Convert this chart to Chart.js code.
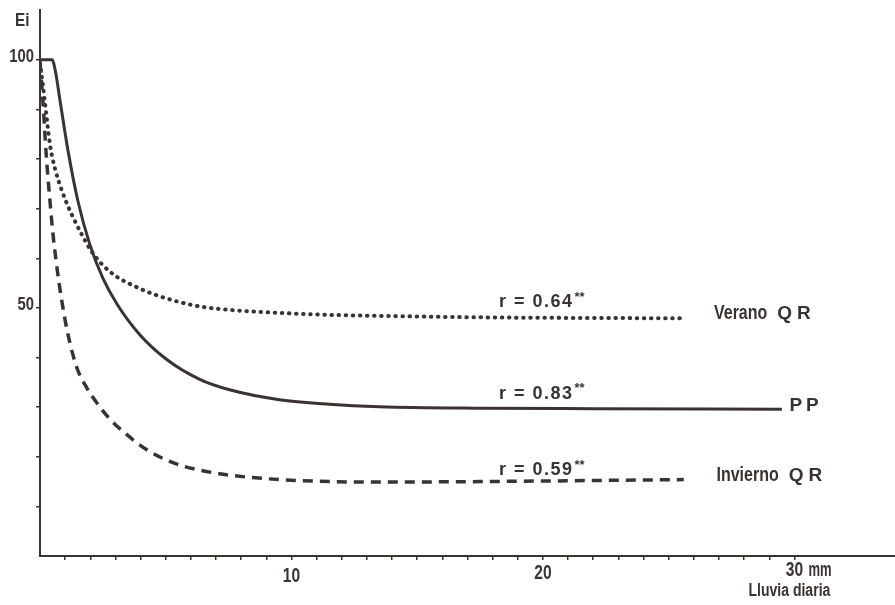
<!DOCTYPE html>
<html>
<head>
<meta charset="utf-8">
<script src="https://cdn.jsdelivr.net/npm/chart.js@4"></script>
<style>
  html, body { margin: 0; padding: 0; background: #ffffff; }
  #wrap { width: 895px; height: 605px; }
</style>
</head>
<body>
<div id="wrap"><canvas id="eiChart" width="895" height="605"></canvas></div>
<script>
// curvas (x = lluvia diaria en mm, y = Ei)
const ppX = [0, 0.48, 0.62, 0.79, 1.11, 1.51, 1.98, 2.5, 3.06, 3.97, 5.04, 6.35, 7.54, 9.52, 11.5, 13.5, 17.5, 22, 29.5];
const ppY = [100, 100, 97.5, 92, 81.8, 71.5, 62.8, 56, 50.8, 44.6, 39.6, 35.6, 33.5, 31.5, 30.6, 30.1, 29.8, 29.7, 29.6];

const veranoX = [0, 0.1, 0.2, 0.3, 0.4, 0.5, 0.6, 0.75, 1.03, 1.35, 1.67, 2.06, 2.78, 3.97, 5.04, 6.35, 7.54, 9.52, 11.5, 13.5, 17.5, 25.6];
const veranoY = [99.4, 95.5, 91.2, 86.8, 82.8, 80.1, 78, 75.4, 71.5, 67.9, 64.7, 61.3, 57.3, 53.9, 51.9, 50.3, 49.6, 49.0, 48.6, 48.4, 48.1, 47.9];

const inviernoX = [0, 0.12, 0.24, 0.4, 0.52, 0.68, 0.87, 1.11, 1.47, 1.87, 2.27, 2.78, 3.42, 4.25, 5.29, 6.36, 7.54, 9.52, 11.5, 13.5, 17.5, 25.6];
const inviernoY = [99.4, 91.4, 81.4, 71.3, 64.7, 57.9, 51.3, 44.7, 37.9, 33.8, 30.8, 27.6, 24.6, 21.4, 18.8, 17.3, 16.3, 15.4, 15.0, 14.9, 15.0, 15.4];

const seriesNames = ['Verano', 'PP', 'Invierno'];
const seriesTags = ['QR', '', 'QR'];
const rValues = ['0.64', '0.83', '0.59'];

const xTickLabels = [10, 20, 30];
const yTickLabels = [50, 100];
const xUnit = 'mm';
const xTitle = 'Lluvia diaria';
const yTitle = 'Ei';

const ink = '#3a3330';
const sans = "'Liberation Sans', Arial, sans-serif";

const toPoints = (xs, ys) => xs.map((v, i) => ({ x: v, y: ys[i] }));

// texto estrecho: la fuente condensada del original se imita escalando en x
function narrowText(ctx, txt, x, y, size, align, sx) {
    ctx.save();
    ctx.translate(x, y);
    ctx.scale(sx, 1);
    ctx.font = 'bold ' + size + 'px ' + sans;
    ctx.textAlign = align;
    ctx.fillText(txt, 0, 0);
    const w = ctx.measureText(txt).width * sx;
    ctx.restore();
    return w;
}

// textos: etiquetas de ejes, coeficientes r y nombres de las series
const textos = {
    id: 'textos',
    afterDraw(chart) {
        const { ctx, scales: { x, y } } = chart;
        ctx.save();
        ctx.fillStyle = ink;
        ctx.textBaseline = 'middle';

        narrowText(ctx, yTitle, 15, 21, 18, 'left', 0.85);
        yTickLabels.forEach(v => narrowText(ctx, String(v), 34, y.getPixelForValue(v) - 3, 19, 'right', 0.78));

        // el original esta un poco inclinado: la linea base baja hacia la izquierda
        ctx.textBaseline = 'alphabetic';
        const base = px => 585 - 0.012 * (px - x.left);
        xTickLabels.forEach(v => {
            const px = x.getPixelForValue(v);
            narrowText(ctx, String(v), px, base(px), 20, 'center', 0.78);
        });
        const p30 = x.getPixelForValue(30);
        narrowText(ctx, xUnit, p30 + 14, base(p30), 20, 'left', 0.65);
        ctx.textBaseline = 'middle';
        narrowText(ctx, xTitle, x.getPixelForValue(29.8), 591, 18, 'center', 0.78);

        // coeficientes r
        const rPos = [[18.25, 51.1], [18.25, 32.7], [18.25, 17.3]];
        rValues.forEach((r, i) => {
            const px = x.getPixelForValue(rPos[i][0]);
            const py = y.getPixelForValue(rPos[i][1]);
            ctx.textAlign = 'left';
            ctx.font = 'bold 18px ' + sans;
            ctx.letterSpacing = '1.5px';
            const txt = 'r = ' + r;
            ctx.fillText(txt, px, py);
            const w = ctx.measureText(txt).width;
            ctx.letterSpacing = '0px';
            ctx.font = 'bold 13px ' + sans;
            ctx.fillText('**', px + w + 1, py - 5);
        });

        // nombres de las series
        const namePos = [[26.8, 48.9], [29.8, 30.3], [26.9, 16.2]];
        seriesNames.forEach((name, i) => {
            const px = x.getPixelForValue(namePos[i][0]);
            const py = y.getPixelForValue(namePos[i][1]);
            ctx.textAlign = 'left';
            if (name === 'PP') {
                ctx.font = 'bold 19px ' + sans;
                ctx.letterSpacing = '4px';
                ctx.fillText(name, px, py);
                ctx.letterSpacing = '0px';
                return;
            }
            const w = narrowText(ctx, name, px, py, 20, 'left', 0.8);
            ctx.font = 'bold 19px ' + sans;
            ctx.letterSpacing = '5px';
            ctx.fillText(seriesTags[i], px + w + 10, py);
            ctx.letterSpacing = '0px';
        });
        ctx.restore();
    }
};

const ctx = document.getElementById('eiChart').getContext('2d');
const eiChart = new Chart(ctx, {
    type: 'line',
    data: {
        datasets: [
            {
                label: 'Verano QR',
                data: toPoints(veranoX, veranoY),
                borderColor: ink,
                borderWidth: 4,
                borderDash: [0.5, 6.6],
                borderCapStyle: 'round',
                cubicInterpolationMode: 'monotone',
                pointRadius: 0,
                fill: false
            },
            {
                label: 'PP',
                data: toPoints(ppX, ppY),
                borderColor: ink,
                borderWidth: 3,
                cubicInterpolationMode: 'monotone',
                pointRadius: 0,
                fill: false
            },
            {
                label: 'Invierno QR',
                data: toPoints(inviernoX, inviernoY),
                borderColor: ink,
                borderWidth: 3.5,
                borderDash: [10, 7],
                cubicInterpolationMode: 'monotone',
                pointRadius: 0,
                fill: false
            }
        ]
    },
    options: {
        responsive: false,
        animation: false,
        layout: { padding: { top: 7, left: 0, right: 0, bottom: 0 } },
        plugins: {
            legend: { display: false },
            tooltip: { enabled: false }
        },
        scales: {
            x: {
                type: 'linear',
                min: 0,
                max: 34,
                border: { color: ink, width: 2 },
                grid: { drawOnChartArea: false, drawTicks: true, tickLength: 4, color: ink, lineWidth: 1.5 },
                ticks: { stepSize: 1, autoSkip: false, maxRotation: 0, callback: () => '' },
                afterBuildTicks: axis => { axis.ticks = axis.ticks.filter(t => t.value > 0 && t.value <= 30); },
                afterFit: scale => { scale.height = 49; }
            },
            y: {
                type: 'linear',
                min: 0,
                max: 110,
                border: { color: ink, width: 2 },
                grid: { drawOnChartArea: false, drawTicks: true, tickLength: 4, color: ink, lineWidth: 1.5 },
                ticks: { stepSize: 10, autoSkip: false, callback: () => '' },
                afterBuildTicks: axis => { axis.ticks = axis.ticks.filter(t => t.value > 0 && t.value <= 100); },
                afterFit: scale => { scale.width = 40; }
            }
        }
    },
    plugins: [textos]
});
</script>
</body>
</html>
